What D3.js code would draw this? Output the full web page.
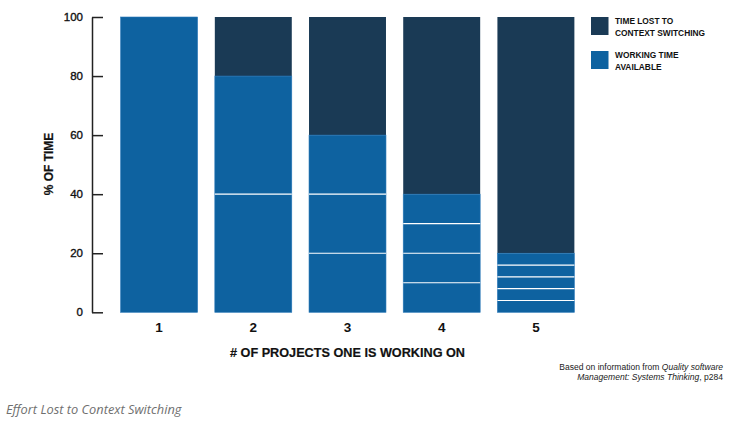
<!DOCTYPE html>
<html><head><meta charset="utf-8">
<script src="https://cdn.jsdelivr.net/npm/d3@7"></script>
<style>
body{margin:0;background:#fff;}
svg{display:block;}
</style></head>
<body>
<svg id="chart" width="737" height="425"></svg>
<script>
const projects = ["1","2","3","4","5"];
const workingTime = [100, 80, 60, 40, 20];
const lostTime = [0, 20, 40, 60, 80];
const yTicks = [0, 20, 40, 60, 80, 100];
const legendLabels = [["TIME LOST TO","CONTEXT SWITCHING"],["WORKING TIME","AVAILABLE"]];

const DARK = "#1a3a55", BLUE = "#0e62a0";
const svg = d3.select("#chart");
const sans = "'Liberation Sans',Arial,sans-serif";

const x = d3.scaleBand().domain(projects).range([112, 583]).paddingInner(0.183).paddingOuter(0.0915);
const y = d3.scaleLinear().domain([0, 100]).range([312.3, 17]);

// bars
const g = svg.append("g");
projects.forEach((p, i) => {
  const n = +p;
  const w = workingTime[i], l = lostTime[i];
  if (l > 0) {
    g.append("rect").attr("x", x(p)).attr("width", x.bandwidth())
      .attr("y", y(w + l)).attr("height", y(w) - y(w + l)).attr("fill", DARK);
  }
  g.append("rect").attr("x", x(p)).attr("width", x.bandwidth())
    .attr("y", y(w)).attr("height", y(0) - y(w)).attr("fill", BLUE)
    .attr("stroke", "#2a78b8").attr("stroke-width", 0.6);
  for (let k = 1; k < n; k++) {
    const v = w / n * k;
    g.append("line").attr("x1", x(p)).attr("x2", x(p) + x.bandwidth())
      .attr("y1", y(v)).attr("y2", y(v)).attr("stroke", "#fff").attr("stroke-width", 1.2);
  }
});

// y axis
const ya = svg.append("g").attr("transform", "translate(92,0)")
  .call(d3.axisLeft(y).tickValues(yTicks).tickSizeInner(-11).tickSizeOuter(0).tickPadding(9));
ya.select(".domain").attr("stroke", "#222").attr("stroke-width", 1.5);
ya.selectAll(".tick line").attr("stroke", "#222").attr("stroke-width", 1.5);
ya.selectAll(".tick text").attr("font-family", sans).attr("font-size", 11.5).attr("fill", "#111")
  .attr("stroke", "#111").attr("stroke-width", 0.35);

// x category labels
svg.append("g").selectAll("text").data(projects).join("text")
  .attr("x", d => x(d) + x.bandwidth() / 2).attr("y", 332)
  .attr("text-anchor", "middle").attr("font-family", sans).attr("font-weight", "bold")
  .attr("font-size", 13.5).attr("fill", "#111").text(d => d);

// axis titles
svg.append("text").attr("x", 347.5).attr("y", 357).attr("text-anchor", "middle")
  .attr("font-family", sans).attr("font-weight", "bold").attr("font-size", 13).attr("fill", "#111")
  .attr("stroke", "#111").attr("stroke-width", 0.2)
  .attr("textLength", 235).attr("lengthAdjust", "spacingAndGlyphs")
  .text("# OF PROJECTS ONE IS WORKING ON");
svg.append("text").attr("transform", "translate(52.5,164) rotate(-90)").attr("text-anchor", "middle")
  .attr("font-family", sans).attr("font-weight", "bold").attr("font-size", 12).attr("fill", "#111")
  .attr("stroke", "#111").attr("stroke-width", 0.2)
  .text("% OF TIME");

// legend
const lcolors = [DARK, BLUE];
legendLabels.forEach((lines, i) => {
  const top = 17 + i * 34;
  svg.append("rect").attr("x", 591).attr("y", top).attr("width", 17.5).attr("height", 18).attr("fill", lcolors[i]);
  lines.forEach((t, j) => {
    svg.append("text").attr("transform", `translate(615,${top + 7 + j * 11.5}) scale(0.9,1)`)
      .attr("font-family", sans).attr("font-weight", "bold").attr("font-size", 9.3).attr("fill", "#111").text(t);
  });
});

// source note
const src = svg.append("g").attr("transform", "translate(723,0) scale(0.92,1)")
  .attr("font-family", sans).attr("font-size", 9.3).attr("fill", "#222");
const t1 = src.append("text").attr("x", 0).attr("y", 370).attr("text-anchor", "end");
t1.append("tspan").text("Based on information from ");
t1.append("tspan").attr("font-style", "italic").text("Quality software");
const t2 = src.append("text").attr("x", 0).attr("y", 380).attr("text-anchor", "end");
t2.append("tspan").attr("font-style", "italic").text("Management: Systems Thinking");
t2.append("tspan").text(", p284");

// caption
svg.append("text").attr("x", 6).attr("y", 413.5).attr("font-family", "'Open Sans',sans-serif")
  .attr("font-style", "italic").attr("font-size", 12.8).attr("fill", "#6f6f6f").text("Effort Lost to Context Switching");
</script>
</body></html>
